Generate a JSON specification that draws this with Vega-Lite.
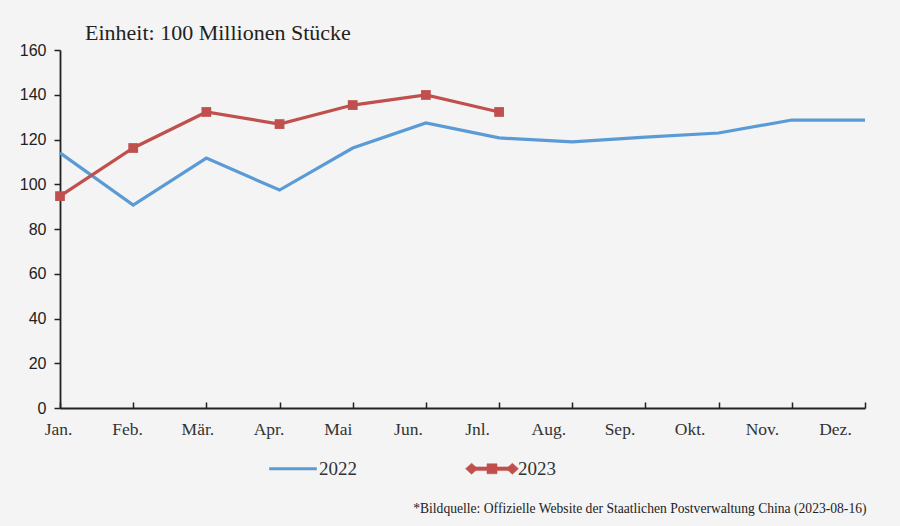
{
  "$schema": "https://vega.github.io/schema/vega-lite/v6.json",
  "width": 805,
  "height": 358,
  "autosize": "none",
  "padding": {"left": 60, "top": 50, "right": 35, "bottom": 118},
  "background": "#f4f4f4",
  "config": {"view": {"stroke": null}},
  "title": {
    "text": "Einheit: 100 Millionen Stücke",
    "anchor": "start",
    "frame": "group",
    "dx": 25,
    "dy": 13,
    "offset": 10,
    "font": "Liberation Serif",
    "fontSize": 22,
    "fontWeight": "normal",
    "color": "#222222"
  },
  "data": {
    "values": [
      {"month": "Jan.", "year": "2022", "value": 114},
      {"month": "Feb.", "year": "2022", "value": 90.7},
      {"month": "Mär.", "year": "2022", "value": 111.7},
      {"month": "Apr.", "year": "2022", "value": 97.4},
      {"month": "Mai", "year": "2022", "value": 116.2},
      {"month": "Jun.", "year": "2022", "value": 127.4},
      {"month": "Jnl.", "year": "2022", "value": 120.7},
      {"month": "Aug.", "year": "2022", "value": 118.9},
      {"month": "Sep.", "year": "2022", "value": 121.1},
      {"month": "Okt.", "year": "2022", "value": 122.9},
      {"month": "Nov.", "year": "2022", "value": 128.7},
      {"month": "Dez.", "year": "2022", "value": 128.7},
      {"month": "Jan.", "year": "2023", "value": 94.7},
      {"month": "Feb.", "year": "2023", "value": 116.2},
      {"month": "Mär.", "year": "2023", "value": 132.3},
      {"month": "Apr.", "year": "2023", "value": 126.9},
      {"month": "Mai", "year": "2023", "value": 135.4},
      {"month": "Jun.", "year": "2023", "value": 139.9},
      {"month": "Jnl.", "year": "2023", "value": 132.3}
    ]
  },
  "resolve": {"axis": {"x": "independent"}},
  "encoding": {
    "y": {
      "field": "value",
      "type": "quantitative",
      "scale": {"domain": [0, 160], "nice": false},
      "axis": {
        "title": null,
        "values": [0, 20, 40, 60, 80, 100, 120, 140, 160],
        "labelFont": "Liberation Sans",
        "labelFontSize": 16,
        "labelColor": "#222222",
        "labelPadding": 8,
        "tickSize": 6,
        "tickColor": "#222222",
        "tickWidth": 1.5,
        "domainColor": "#222222",
        "domainWidth": 1.8,
        "grid": false
      }
    }
  },
  "layer": [
    {
      "mark": {"type": "line", "strokeWidth": 3.2},
      "encoding": {
        "x": {
          "field": "month",
          "type": "ordinal",
          "sort": ["Jan.", "Feb.", "Mär.", "Apr.", "Mai", "Jun.", "Jnl.", "Aug.", "Sep.", "Okt.", "Nov.", "Dez."],
          "scale": {"type": "point", "padding": 0},
          "axis": {
            "title": "*Bildquelle: Offizielle Website der Staatlichen Postverwaltung China (2023-08-16)",
            "titleFont": "Liberation Serif",
            "titleFontSize": 13.6,
            "titleFontWeight": "normal",
            "titleColor": "#222222",
            "titleAnchor": "end",
            "titleAlign": "right",
            "titleBaseline": "alphabetic",
            "titleX": 806,
            "titleY": 104,
            "labelAngle": 0,
            "labelFont": "Liberation Serif",
            "labelFontSize": 17.5,
            "labelColor": "#333333",
            "labelPadding": 12,
            "labelOffset": {
              "condition": [
                {"test": "datum.value === 'Jan.'", "value": -2},
                {"test": "datum.value === 'Feb.'", "value": -6},
                {"test": "datum.value === 'Mär.'", "value": -9},
                {"test": "datum.value === 'Apr.'", "value": -11},
                {"test": "datum.value === 'Mai'", "value": -15},
                {"test": "datum.value === 'Jun.'", "value": -18},
                {"test": "datum.value === 'Jnl.'", "value": -22},
                {"test": "datum.value === 'Aug.'", "value": -24},
                {"test": "datum.value === 'Sep.'", "value": -26},
                {"test": "datum.value === 'Okt.'", "value": -29},
                {"test": "datum.value === 'Nov.'", "value": -30}
              ],
              "value": -30
            },
            "ticks": false,
            "domainColor": "#222222",
            "domainWidth": 1.8,
            "grid": false
          }
        },
        "color": {
          "field": "year",
          "type": "nominal",
          "scale": {"domain": ["2022", "2023"], "range": ["#5b9bd5", "#c0504d"]},
          "legend": {
            "title": null,
            "orient": "none",
            "direction": "horizontal",
            "legendX": 223.5,
            "legendY": 409,
            "labelFont": "Liberation Serif",
            "labelFontSize": 19,
            "labelColor": "#333333",
            "labelOffset": 16.5,
            "columnPadding": 107,
            "symbolSize": 2800,
            "symbolStrokeWidth": 3,
            "encode": {
              "symbols": {
                "update": {
                  "shape": {"signal": "datum.value === '2023' ? 'M-1,0L-0.77,-0.21L-0.54,0L-0.77,0.21Z M-0.19,-0.19H0.19V0.19H-0.19Z M0.54,0L0.77,-0.21L1,0L0.77,0.21Z M-0.7,-0.07H0.7V0.07H-0.7Z' : 'M-0.9,0H0.9'"},
                  "fill": {"signal": "datum.value === '2023' ? '#c0504d' : 'transparent'"},
                  "strokeWidth": {"signal": "datum.value === '2023' ? 0.5 : 3.2"},
                  "size": {"value": 2800}
                }
              }
            }
          }
        }
      }
    },
    {
      "transform": [{"filter": "datum.year === '2023'"}],
      "mark": {"type": "point", "shape": "square", "filled": true, "size": 95, "opacity": 1, "color": "#c0504d"},
      "encoding": {
        "x": {
          "field": "month",
          "type": "ordinal",
          "sort": ["Jan.", "Feb.", "Mär.", "Apr.", "Mai", "Jun.", "Jnl.", "Aug.", "Sep.", "Okt.", "Nov.", "Dez."],
          "scale": {"type": "point", "padding": 0},
          "axis": {
            "title": null,
            "orient": "bottom",
            "offset": -6,
            "domain": false,
            "labels": false,
            "ticks": true,
            "tickSize": 6,
            "tickColor": "#222222",
            "tickWidth": 1.5,
            "grid": false
          }
        }
      }
    }
  ]
}
